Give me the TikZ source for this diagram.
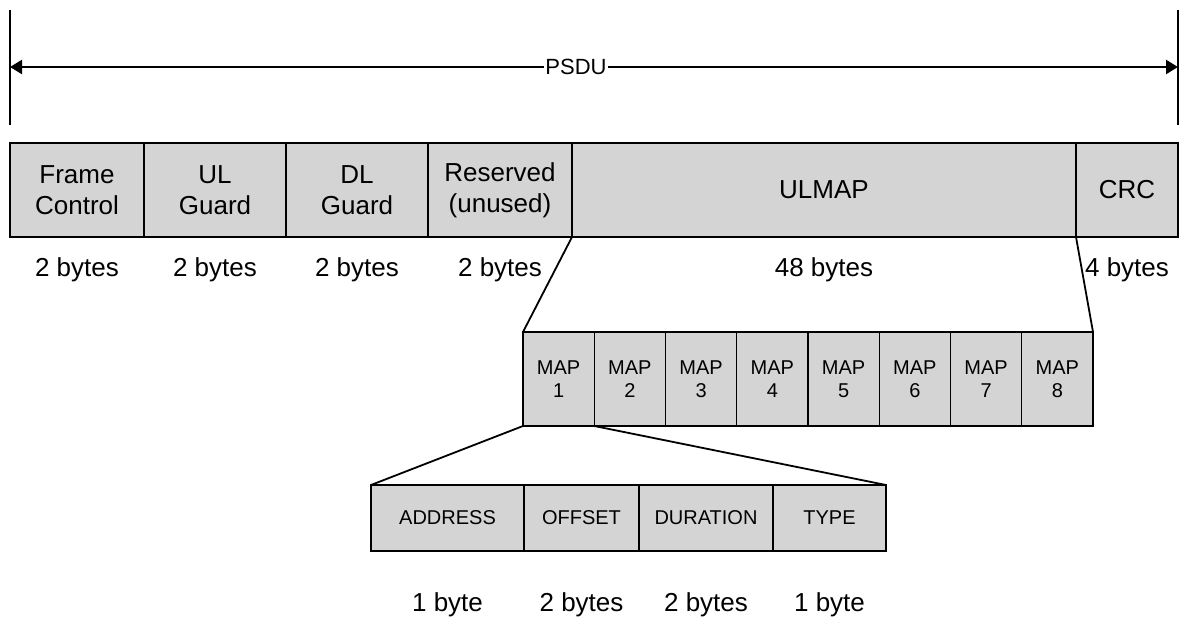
\documentclass[tikz,border=0pt]{standalone}
\usepackage{fontspec}
\setmainfont{Liberation Sans}
\usetikzlibrary{arrows.meta,positioning}
\definecolor{CellGray}{HTML}{D4D4D4}

\begin{document}
\begin{tikzpicture}[x=1pt,y=-1pt,>={Triangle[length=12pt,width=14pt]},
  cell/.style={draw,fill=CellGray,line width=1.3pt,inner sep=0pt,outer sep=0pt,minimum height=94pt,align=center,font=\fontsize{26}{31}\selectfont},
  mapcell/.style={cell,minimum width=71.25pt,font=\fontsize{20}{23}\selectfont},
  fieldcell/.style={cell,minimum height=66pt,font=\fontsize{20}{23}\selectfont},
  size/.style={inner sep=0pt,font=\fontsize{26}{31}\selectfont},
  link/.style={line width=1.8pt}]
\useasboundingbox (0,0) rectangle (1180,617);

% PSDU span
\coordinate (ltop) at (10,10);
\coordinate (lbot) at (10,125);
\coordinate (rtop) at (1178,10);
\coordinate (rbot) at (1178,125);
\coordinate (lend) at (10,67);
\coordinate (rend) at (1178,67);
\node[inner sep=1pt,font=\fontsize{22}{26}\selectfont] (psdu) at (576,67) {PSDU};
\draw[line width=2pt] (ltop)--(lbot);
\draw[line width=2pt] (rtop)--(rbot);
\draw[->,line width=2.2pt] (psdu)--(lend);
\draw[->,line width=2.2pt] (psdu)--(rend);

% frame fields
\node[cell,minimum width=134pt,anchor=north west] (frame) at (10,143) {Frame\\Control};
\node[cell,minimum width=142pt,right=0pt of frame] (ulg) {UL\\Guard};
\node[cell,minimum width=142pt,right=0pt of ulg] (dlg) {DL\\Guard};
\node[cell,minimum width=144pt,right=0pt of dlg] (resv) {Reserved\\(unused)};
\node[cell,minimum width=504pt,right=0pt of resv] (ulmap) {ULMAP};
\node[cell,minimum width=102pt,right=0pt of ulmap] (crc) {CRC};

\node[size,below=20pt of frame] (sframe) {2 bytes};
\node[size,below=20pt of ulg] (sulg) {2 bytes};
\node[size,below=20pt of dlg] (sdlg) {2 bytes};
\node[size,below=20pt of resv] (sresv) {2 bytes};
\node[size,below=20pt of ulmap] (sulmap) {48 bytes};
\node[size,below=20pt of crc] (scrc) {4 bytes};

% ULMAP entries
\node[mapcell,anchor=north west] (map1) at (523,332) {MAP\\1};
\foreach \i [remember=\i as \lasti (initially 1)] in {2,...,8}
  \node[mapcell,right=0pt of map\lasti] (map\i) {MAP\\\i};

% MAP fields
\node[fieldcell,minimum width=153pt,anchor=north west] (addr) at (371,485) {ADDRESS};
\node[fieldcell,minimum width=115pt,right=0pt of addr] (offs) {OFFSET};
\node[fieldcell,minimum width=134pt,right=0pt of offs] (dur) {DURATION};
\node[fieldcell,minimum width=113pt,right=0pt of dur] (type) {TYPE};

\node[size,below=41pt of addr] (saddr) {1 byte};
\node[size,below=41pt of offs] (soffs) {2 bytes};
\node[size,below=41pt of dur] (sdur) {2 bytes};
\node[size,below=41pt of type] (stype) {1 byte};

\draw[link] (resv.south east)--(map1.north west);
\draw[link] (crc.south west)--(map8.north east);
\draw[link] (map1.south west)--(addr.north west);
\draw[link] (map1.south east)--(type.north east);
\end{tikzpicture}
\end{document}
